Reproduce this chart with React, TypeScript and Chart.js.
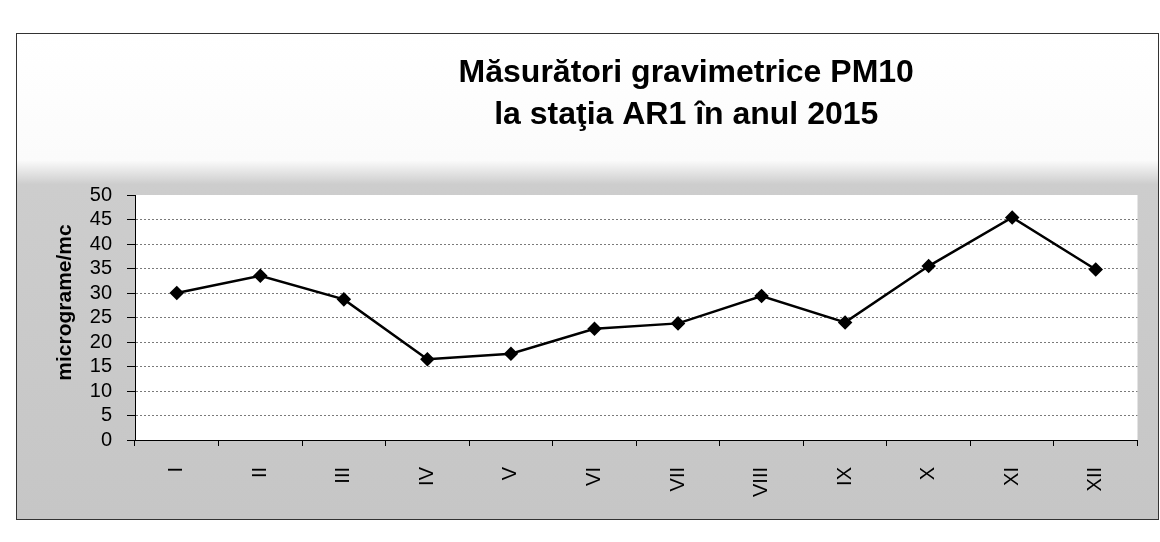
import React, { useEffect, useRef } from "react";
import { Chart, registerables } from "chart.js";

Chart.register(...registerables);

// ---- data ----
const months = ["I", "II", "III", "IV", "V", "VI", "VII", "VIII", "IX", "X", "XI", "XII"];
const pm10Values = [30, 33.5, 28.7, 16.5, 17.6, 22.7, 23.8, 29.4, 24, 35.5, 45.4, 34.8];
const yAxisMin = 0;
const yAxisMax = 50;
const yAxisStep = 5;
const titleLines = ["Măsurători gravimetrice PM10", "la staţia AR1 în anul 2015"];
const yAxisTitle = "micrograme/mc";

const FONT = '"Liberation Sans", Arial, Helvetica, sans-serif';

const backgroundPlugin = {
  id: "scanBackground",
  beforeDraw(chart: any) {
    const { ctx, width, height, chartArea } = chart;
    ctx.save();
    const g = ctx.createLinearGradient(0, 0, 0, height);
    g.addColorStop(0, "#ffffff");
    g.addColorStop(0.26, "#fbfbfb");
    g.addColorStop(0.31, "#cdcdcd");
    g.addColorStop(1, "#c6c6c6");
    ctx.fillStyle = g;
    ctx.fillRect(0, 0, width, height);
    ctx.fillStyle = "#ffffff";
    ctx.fillRect(
      chartArea.left,
      chartArea.top,
      chartArea.right - chartArea.left,
      chartArea.bottom - chartArea.top
    );
    ctx.restore();
  },
};

const titlesPlugin = {
  id: "titles",
  afterDraw(chart: any) {
    const { ctx, chartArea } = chart;
    ctx.save();
    ctx.fillStyle = "#000";
    ctx.font = `bold 32px ${FONT}`;
    ctx.textAlign = "center";
    ctx.textBaseline = "alphabetic";
    const cx = (chartArea.left + chartArea.right) / 2 + 50;
    titleLines.forEach((t, i) => {
      ctx.fillText(t, cx, chartArea.top - 113 + i * 42);
    });
    ctx.font = `bold 21px ${FONT}`;
    ctx.translate(48, (chartArea.top + chartArea.bottom) / 2 - 15);
    ctx.rotate(-Math.PI / 2);
    ctx.textBaseline = "middle";
    ctx.fillText(yAxisTitle, 0, 0);
    ctx.restore();
  },
};

export default function App() {
  const ref = useRef<HTMLCanvasElement | null>(null);

  useEffect(() => {
    if (!ref.current) return;
    const chart = new Chart(ref.current, {
      type: "line",
      data: {
        labels: months,
        datasets: [
          {
            data: pm10Values,
            borderColor: "#000",
            borderWidth: 2.5,
            pointStyle: "rectRot",
            pointRadius: 5.5,
            pointBackgroundColor: "#000",
            pointBorderColor: "#000",
            tension: 0,
            fill: false,
          },
        ],
      },
      options: {
        responsive: false,
        animation: false,
        layout: { padding: { left: 0, right: 20.5, top: 161, bottom: 0 } },
        plugins: {
          legend: { display: false },
          title: { display: false },
          tooltip: { enabled: false },
        },
        scales: {
          x: {
            type: "category",
            offset: true,
            grid: {
              display: true,
              drawOnChartArea: false,
              drawTicks: true,
              tickLength: 6,
              tickColor: "#000",
              offset: true,
            },
            border: { display: true, color: "#000", width: 1 },
            ticks: {
              autoSkip: false,
              minRotation: 90,
              maxRotation: 90,
              padding: 21,
              color: "#000",
              font: { family: FONT, size: 20 },
            },
            afterFit: (s: any) => {
              s.height = 79;
            },
          },
          y: {
            min: yAxisMin,
            max: yAxisMax,
            ticks: {
              stepSize: yAxisStep,
              autoSkip: false,
              padding: 15,
              color: "#000",
              font: { family: FONT, size: 20 },
            },
            grid: {
              color: (c: any) =>
                c.tick && (c.tick.value === yAxisMin || c.tick.value === yAxisMax)
                  ? "rgba(0,0,0,0)"
                  : "#7a7a7a",
              lineWidth: 1,
              tickLength: 8,
              tickColor: "#000",
            },
            border: { display: true, color: "#000", width: 1, dash: [2, 2] },
            afterFit: (s: any) => {
              s.width = 118;
            },
          },
        },
      },
      plugins: [backgroundPlugin, titlesPlugin],
    });
    return () => chart.destroy();
  }, []);

  return (
    <div
      style={{
        position: "absolute",
        left: 16,
        top: 33,
        width: 1143,
        height: 487,
        boxSizing: "border-box",
        border: "1px solid #333",
        background: "#fff",
      }}
    >
      <canvas ref={ref} width={1141} height={485} style={{ display: "block" }} />
    </div>
  );
}
